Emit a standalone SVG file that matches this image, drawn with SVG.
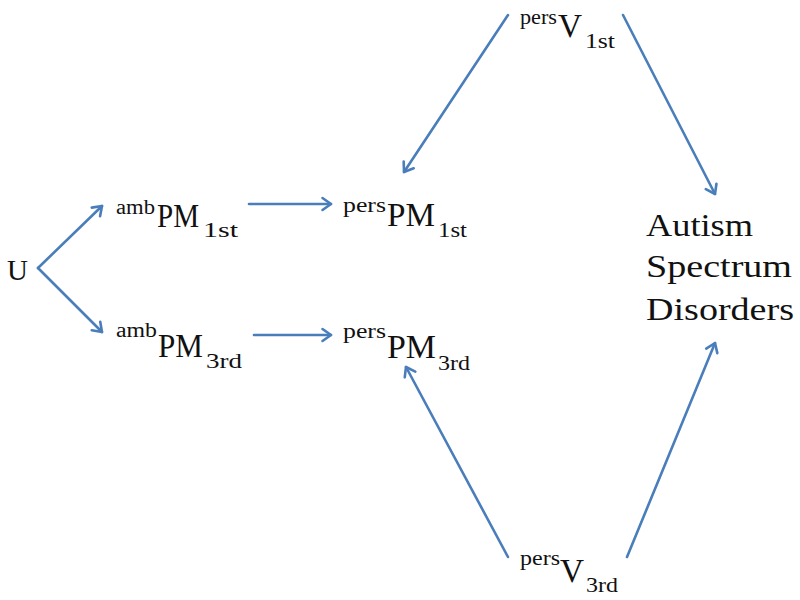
<svg xmlns="http://www.w3.org/2000/svg" width="800" height="600" viewBox="0 0 800 600">
<style>
  text { font-family: "Liberation Serif", "Times New Roman", serif; fill: #111; }
  .main { font-size: 33px; }
  .sup { font-size: 20px; }
  .sub { font-size: 21px; }
  .big { font-size: 32px; }
  .edge { stroke: #4a7ebb; stroke-width: 2.6; fill: none; stroke-linecap: round; marker-end: url(#ah); }
</style>
<defs>
  <marker id="ah" markerWidth="14" markerHeight="14" refX="11" refY="7" orient="auto" markerUnits="userSpaceOnUse" overflow="visible">
    <path d="M2.5,1 L11,7 L2.5,13" fill="none" stroke="#4a7ebb" stroke-width="2.6" stroke-linecap="round" stroke-linejoin="round"/>
  </marker>
</defs>
<rect width="800" height="600" fill="#ffffff"/>

<g id="connectors">
  <line class="edge" x1="38" y1="268" x2="102" y2="206"/>
  <line class="edge" x1="38" y1="268" x2="102" y2="332"/>
  <line class="edge" x1="249" y1="204" x2="331" y2="204"/>
  <line class="edge" x1="254" y1="335" x2="331" y2="335"/>
  <line class="edge" x1="508" y1="15" x2="404" y2="172"/>
  <line class="edge" x1="623" y1="15" x2="715" y2="194"/>
  <line class="edge" x1="508" y1="557" x2="406" y2="367"/>
  <line class="edge" x1="627" y1="557" x2="715" y2="343"/>
</g>

<g id="node-U">
  <text x="7" y="280" style="font-size:29px">U</text>
</g>

<g id="node-ambPM1st">
  <text class="sup" x="116" y="214" textLength="39" lengthAdjust="spacingAndGlyphs">amb</text>
  <text class="main" x="157" y="227" textLength="42" lengthAdjust="spacingAndGlyphs">PM</text>
  <text class="sub" x="203" y="237" textLength="35" lengthAdjust="spacingAndGlyphs">1st</text>
</g>

<g id="node-ambPM3rd">
  <text class="sup" x="116" y="337" textLength="41" lengthAdjust="spacingAndGlyphs">amb</text>
  <text class="main" x="158" y="357" textLength="45" lengthAdjust="spacingAndGlyphs">PM</text>
  <text class="sub" x="206" y="368" textLength="36" lengthAdjust="spacingAndGlyphs">3rd</text>
</g>

<g id="node-persPM1st">
  <text class="sup" x="343" y="212" textLength="43" lengthAdjust="spacingAndGlyphs">pers</text>
  <text class="main" x="387" y="226" textLength="48" lengthAdjust="spacingAndGlyphs">PM</text>
  <text class="sub" x="438" y="237" textLength="29" lengthAdjust="spacingAndGlyphs">1st</text>
</g>

<g id="node-persPM3rd">
  <text class="sup" x="343" y="338" textLength="43" lengthAdjust="spacingAndGlyphs">pers</text>
  <text class="main" x="387" y="358" textLength="49" lengthAdjust="spacingAndGlyphs">PM</text>
  <text class="sub" x="438" y="370" textLength="32" lengthAdjust="spacingAndGlyphs">3rd</text>
</g>

<g id="node-persV1st">
  <text class="sup" x="520" y="24" textLength="37" lengthAdjust="spacingAndGlyphs">pers</text>
  <text class="main" x="558" y="37" textLength="24" lengthAdjust="spacingAndGlyphs">V</text>
  <text class="sub" x="585" y="48" textLength="30" lengthAdjust="spacingAndGlyphs">1st</text>
</g>

<g id="node-persV3rd">
  <text class="sup" x="520" y="565" textLength="40" lengthAdjust="spacingAndGlyphs">pers</text>
  <text class="main" x="560" y="582" textLength="24" lengthAdjust="spacingAndGlyphs">V</text>
  <text class="sub" x="586" y="592" textLength="32" lengthAdjust="spacingAndGlyphs">3rd</text>
</g>

<g id="node-ASD">
  <text class="big" x="646" y="236" textLength="107" lengthAdjust="spacingAndGlyphs">Autism</text>
  <text class="big" x="646" y="277" textLength="146" lengthAdjust="spacingAndGlyphs">Spectrum</text>
  <text class="big" x="646" y="320" textLength="148" lengthAdjust="spacingAndGlyphs">Disorders</text>
</g>
</svg>
